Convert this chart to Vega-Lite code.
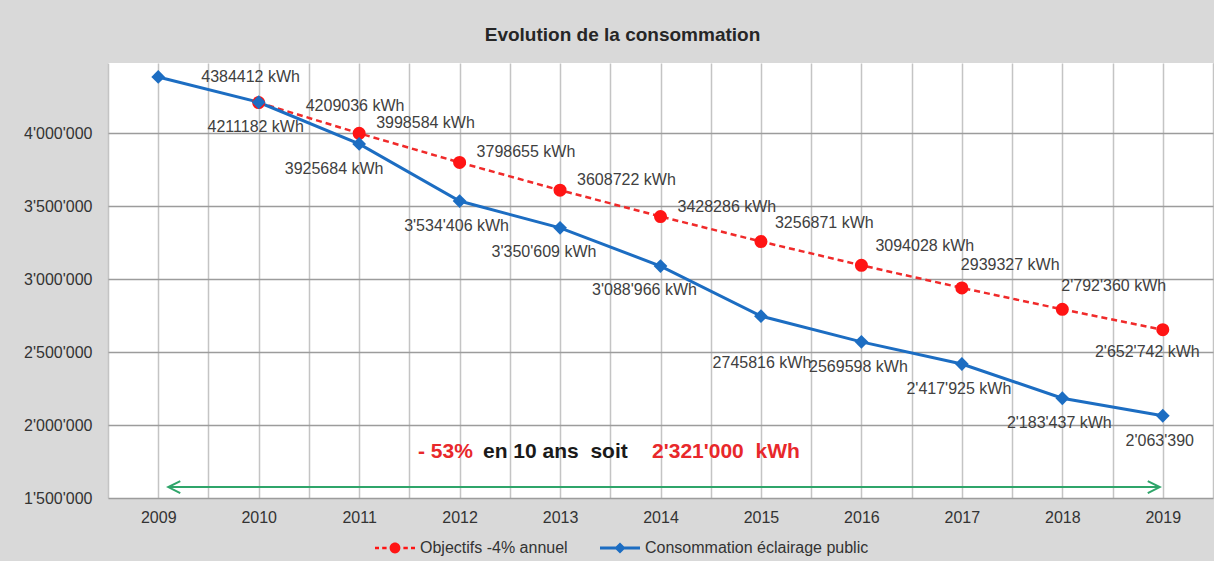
{
  "$schema": "https://vega.github.io/schema/vega-lite/v6.json",
  "width": 1105,
  "height": 435,
  "autosize": {"type": "none"},
  "padding": {"left": 108, "top": 63, "right": 1, "bottom": 63},
  "background": "#d9d9d9",
  "title": {
    "text": "Evolution de la consommation",
    "fontSize": 19,
    "fontWeight": "bold",
    "font": "Liberation Sans",
    "color": "#262626",
    "anchor": "middle",
    "dx": -38,
    "offset": 18
  },
  "config": {
    "view": {"fill": "white", "stroke": null},
    "font": "Liberation Sans"
  },
  "datasets": {
    "main": [
      {"year": 2009, "series": "Consommation éclairage public", "value": 4384412, "label": "4384412 kWh"},
      {"year": 2010, "series": "Consommation éclairage public", "value": 4211182, "label": "4211182 kWh"},
      {"year": 2011, "series": "Consommation éclairage public", "value": 3925684, "label": "3925684 kWh"},
      {"year": 2012, "series": "Consommation éclairage public", "value": 3534406, "label": "3'534'406 kWh"},
      {"year": 2013, "series": "Consommation éclairage public", "value": 3350609, "label": "3'350'609 kWh"},
      {"year": 2014, "series": "Consommation éclairage public", "value": 3088966, "label": "3'088'966 kWh"},
      {"year": 2015, "series": "Consommation éclairage public", "value": 2745816, "label": "2745816 kWh"},
      {"year": 2016, "series": "Consommation éclairage public", "value": 2569598, "label": "2569598 kWh"},
      {"year": 2017, "series": "Consommation éclairage public", "value": 2417925, "label": "2'417'925 kWh"},
      {"year": 2018, "series": "Consommation éclairage public", "value": 2183437, "label": "2'183'437 kWh"},
      {"year": 2019, "series": "Consommation éclairage public", "value": 2063390, "label": "2'063'390"},
      {"year": 2010, "series": "Objectifs -4% annuel", "value": 4209036, "label": "4209036 kWh"},
      {"year": 2011, "series": "Objectifs -4% annuel", "value": 3998584, "label": "3998584 kWh"},
      {"year": 2012, "series": "Objectifs -4% annuel", "value": 3798655, "label": "3798655 kWh"},
      {"year": 2013, "series": "Objectifs -4% annuel", "value": 3608722, "label": "3608722 kWh"},
      {"year": 2014, "series": "Objectifs -4% annuel", "value": 3428286, "label": "3428286 kWh"},
      {"year": 2015, "series": "Objectifs -4% annuel", "value": 3256871, "label": "3256871 kWh"},
      {"year": 2016, "series": "Objectifs -4% annuel", "value": 3094028, "label": "3094028 kWh"},
      {"year": 2017, "series": "Objectifs -4% annuel", "value": 2939327, "label": "2939327 kWh"},
      {"year": 2018, "series": "Objectifs -4% annuel", "value": 2792360, "label": "2'792'360 kWh"},
      {"year": 2019, "series": "Objectifs -4% annuel", "value": 2652742, "label": "2'652'742 kWh"}
    ],
    "note": [{"id": 1}]
  },
  "layer": [
    {
      "data": {"name": "main"},
      "transform": [{"filter": "datum.series === 'Objectifs -4% annuel'"}],
      "mark": {"type": "line", "color": "#f02a2a", "strokeWidth": 2.5, "strokeDash": [6, 4]},
      "encoding": {
        "x": {
          "field": "year",
          "type": "quantitative",
          "scale": {"domain": [2008.5, 2019.5], "nice": false, "zero": false},
          "axis": {
            "values": [2008.5, 2009, 2009.5, 2010, 2010.5, 2011, 2011.5, 2012, 2012.5, 2013, 2013.5, 2014, 2014.5, 2015, 2015.5, 2016, 2016.5, 2017, 2017.5, 2018, 2018.5, 2019, 2019.5],
            "tickCount": 60,
            "tickMinStep": 0.5,
            "labelExpr": "datum.value % 1 === 0 ? format(datum.value, 'd') : ''",
            "title": null,
            "ticks": false,
            "domain": false,
            "grid": true,
            "gridColor": "#c4c4c4",
            "gridWidth": 1.5,
            "labelFontSize": 16,
            "labelFont": "Liberation Sans",
            "labelColor": "#333333",
            "labelPadding": 11,
            "labelFlush": false,
            "labelOverlap": false
          }
        },
        "y": {
          "field": "value",
          "type": "quantitative",
          "scale": {"domain": [1500000, 4480000], "nice": false, "zero": false},
          "axis": {
            "values": [1500000, 2000000, 2500000, 3000000, 3500000, 4000000],
            "tickCount": 20,
            "labelExpr": "replace(format(datum.value, ','), regexp(',', 'g'), \"'\")",
            "title": null,
            "ticks": false,
            "domain": false,
            "grid": true,
            "gridColor": "#9c9c9c",
            "gridWidth": 1.5,
            "labelFontSize": 16,
            "labelFont": "Liberation Sans",
            "labelColor": "#333333",
            "labelPadding": 16
          }
        }
      }
    },
    {
      "data": {"name": "main"},
      "transform": [{"filter": "datum.series === 'Consommation éclairage public'"}],
      "mark": {"type": "line", "color": "#1c6dc2", "strokeWidth": 3},
      "encoding": {"x": {"field": "year", "type": "quantitative"}, "y": {"field": "value", "type": "quantitative"}}
    },
    {
      "data": {"name": "main"},
      "transform": [{"filter": "datum.series === 'Objectifs -4% annuel'"}],
      "mark": {"type": "point", "shape": "circle", "filled": true, "color": "#ff1414", "size": 170, "opacity": 1},
      "encoding": {"x": {"field": "year", "type": "quantitative"}, "y": {"field": "value", "type": "quantitative"}}
    },
    {
      "data": {"name": "main"},
      "transform": [{"filter": "datum.series === 'Consommation éclairage public'"}],
      "mark": {"type": "point", "shape": "diamond", "filled": true, "color": "#1c6dc2", "size": 190, "opacity": 1},
      "encoding": {"x": {"field": "year", "type": "quantitative"}, "y": {"field": "value", "type": "quantitative"}}
    },
    {
      "data": {"name": "main"},
      "transform": [{"filter": "false"}],
      "mark": {"type": "point", "filled": true, "opacity": 1, "size": 1600},
      "encoding": {
        "x": {"field": "year", "type": "quantitative"},
        "y": {"field": "value", "type": "quantitative"},
        "color": {
          "field": "series",
          "type": "nominal",
          "scale": {"domain": ["Objectifs -4% annuel", "Consommation éclairage public"], "range": ["#ff1414", "#1c6dc2"]},
          "legend": {
            "orient": "none",
            "legendX": 267,
            "legendY": 465,
            "direction": "horizontal",
            "title": null,
            "symbolSize": 1600,
            "symbolOpacity": 1,
            "symbolStrokeWidth": 0,
            "labelFontSize": 16,
            "labelFont": "Liberation Sans",
            "labelColor": "#333333",
            "labelOffset": 5,
            "labelLimit": 0,
            "columnPadding": 32,
            "padding": 0
          }
        },
        "shape": {
          "field": "series",
          "type": "nominal",
          "scale": {"domain": ["Objectifs -4% annuel", "Consommation éclairage public"], "range": ["M-1,-0.06L-0.8,-0.06L-0.8,0.06L-1,0.06ZM-0.64,-0.06L-0.42,-0.06L-0.42,0.06L-0.64,0.06ZM0.42,-0.06L0.64,-0.06L0.64,0.06L0.42,0.06ZM0.8,-0.06L1,-0.06L1,0.06L0.8,0.06ZM-0.27,0A0.27,0.27,0,1,1,0.27,0A0.27,0.27,0,1,1,-0.27,0Z", "M-1,-0.07L1,-0.07L1,0.07L-1,0.07ZM0,-0.28L0.28,0L0,0.28L-0.28,0Z"]}
        }
      }
    },
    {
      "data": {"name": "main"},
      "transform": [{"filter": "datum.series === 'Consommation éclairage public' && datum.year === 2009"}],
      "mark": {"type": "text", "align": "left", "baseline": "middle", "dx": 43, "dy": 0, "fontSize": 16, "color": "#404040"},
      "encoding": {"x": {"field": "year", "type": "quantitative"}, "y": {"field": "value", "type": "quantitative"}, "text": {"field": "label"}}
    },
    {
      "data": {"name": "main"},
      "transform": [{"filter": "datum.series === 'Consommation éclairage public' && datum.year === 2011"}],
      "mark": {"type": "text", "align": "center", "baseline": "middle", "dx": -25, "dy": 25, "fontSize": 16, "color": "#404040"},
      "encoding": {"x": {"field": "year", "type": "quantitative"}, "y": {"field": "value", "type": "quantitative"}, "text": {"field": "label"}}
    },
    {
      "data": {"name": "main"},
      "transform": [{"filter": "datum.series === 'Consommation éclairage public' && datum.year === 2015"}],
      "mark": {"type": "text", "align": "center", "baseline": "middle", "dx": 1, "dy": 47, "fontSize": 16, "color": "#404040"},
      "encoding": {"x": {"field": "year", "type": "quantitative"}, "y": {"field": "value", "type": "quantitative"}, "text": {"field": "label"}}
    },
    {
      "data": {"name": "main"},
      "transform": [{"filter": "datum.series === 'Consommation éclairage public' && (datum.year === 2013 || datum.year === 2014)"}],
      "mark": {"type": "text", "align": "center", "baseline": "middle", "dx": -16, "dy": 24, "fontSize": 16, "color": "#404040"},
      "encoding": {"x": {"field": "year", "type": "quantitative"}, "y": {"field": "value", "type": "quantitative"}, "text": {"field": "label"}}
    },
    {
      "data": {"name": "main"},
      "transform": [{"filter": "datum.series === 'Consommation éclairage public' && (datum.year === 2010 || datum.year === 2012 || datum.year === 2016 || datum.year === 2017 || datum.year === 2018 || datum.year === 2019)"}],
      "mark": {"type": "text", "align": "center", "baseline": "middle", "dx": -3, "dy": 25, "fontSize": 16, "color": "#404040"},
      "encoding": {"x": {"field": "year", "type": "quantitative"}, "y": {"field": "value", "type": "quantitative"}, "text": {"field": "label"}}
    },
    {
      "data": {"name": "main"},
      "transform": [{"filter": "datum.series === 'Objectifs -4% annuel' && datum.year === 2010"}],
      "mark": {"type": "text", "align": "left", "baseline": "middle", "dx": 47, "dy": 3, "fontSize": 16, "color": "#404040"},
      "encoding": {"x": {"field": "year", "type": "quantitative"}, "y": {"field": "value", "type": "quantitative"}, "text": {"field": "label"}}
    },
    {
      "data": {"name": "main"},
      "transform": [{"filter": "datum.series === 'Objectifs -4% annuel' && datum.year >= 2011 && datum.year <= 2014"}],
      "mark": {"type": "text", "align": "left", "baseline": "middle", "dx": 17, "dy": -10, "fontSize": 16, "color": "#404040"},
      "encoding": {"x": {"field": "year", "type": "quantitative"}, "y": {"field": "value", "type": "quantitative"}, "text": {"field": "label"}}
    },
    {
      "data": {"name": "main"},
      "transform": [{"filter": "datum.series === 'Objectifs -4% annuel' && datum.year >= 2015 && datum.year <= 2016"}],
      "mark": {"type": "text", "align": "left", "baseline": "middle", "dx": 14, "dy": -19, "fontSize": 16, "color": "#404040"},
      "encoding": {"x": {"field": "year", "type": "quantitative"}, "y": {"field": "value", "type": "quantitative"}, "text": {"field": "label"}}
    },
    {
      "data": {"name": "main"},
      "transform": [{"filter": "datum.series === 'Objectifs -4% annuel' && datum.year >= 2017 && datum.year <= 2018"}],
      "mark": {"type": "text", "align": "left", "baseline": "middle", "dx": -1, "dy": -23, "fontSize": 16, "color": "#404040"},
      "encoding": {"x": {"field": "year", "type": "quantitative"}, "y": {"field": "value", "type": "quantitative"}, "text": {"field": "label"}}
    },
    {
      "data": {"name": "main"},
      "transform": [{"filter": "datum.series === 'Objectifs -4% annuel' && datum.year === 2019"}],
      "mark": {"type": "text", "align": "right", "baseline": "middle", "dx": 37, "dy": 22, "fontSize": 16, "color": "#404040"},
      "encoding": {"x": {"field": "year", "type": "quantitative"}, "y": {"field": "value", "type": "quantitative"}, "text": {"field": "label"}}
    },
    {
      "data": {"name": "note"},
      "mark": {"type": "rule", "color": "#2fa56a", "strokeWidth": 2},
      "encoding": {"x": {"datum": 2009.1, "type": "quantitative"}, "x2": {"datum": 2018.97}, "y": {"datum": 1575000, "type": "quantitative"}}
    },
    {
      "data": {"name": "note"},
      "mark": {"type": "point", "shape": "M2,-1L0,0L2,1", "filled": false, "color": "#2fa56a", "strokeWidth": 2, "size": 144, "opacity": 1},
      "encoding": {"x": {"datum": 2009.1, "type": "quantitative"}, "y": {"datum": 1575000, "type": "quantitative"}}
    },
    {
      "data": {"name": "note"},
      "mark": {"type": "point", "shape": "M-2,-1L0,0L-2,1", "filled": false, "color": "#2fa56a", "strokeWidth": 2, "size": 144, "opacity": 1},
      "encoding": {"x": {"datum": 2018.97, "type": "quantitative"}, "y": {"datum": 1575000, "type": "quantitative"}}
    },
    {
      "data": {"name": "note"},
      "mark": {"type": "text", "text": "- 53%", "align": "left", "baseline": "middle", "fontSize": 21, "fontWeight": "bold", "color": "#e8282b"},
      "encoding": {"x": {"datum": 2011.586, "type": "quantitative"}, "y": {"datum": 1815000, "type": "quantitative"}}
    },
    {
      "data": {"name": "note"},
      "mark": {"type": "text", "text": "en 10 ans\u00a0\u00a0soit", "align": "left", "baseline": "middle", "fontSize": 21, "fontWeight": "bold", "color": "#1a1a1a"},
      "encoding": {"x": {"datum": 2012.233, "type": "quantitative"}, "y": {"datum": 1815000, "type": "quantitative"}}
    },
    {
      "data": {"name": "note"},
      "mark": {"type": "text", "text": "2'321'000\u00a0\u00a0kWh", "align": "left", "baseline": "middle", "fontSize": 21, "fontWeight": "bold", "color": "#e8282b"},
      "encoding": {"x": {"datum": 2013.916, "type": "quantitative"}, "y": {"datum": 1815000, "type": "quantitative"}}
    }
  ]
}
